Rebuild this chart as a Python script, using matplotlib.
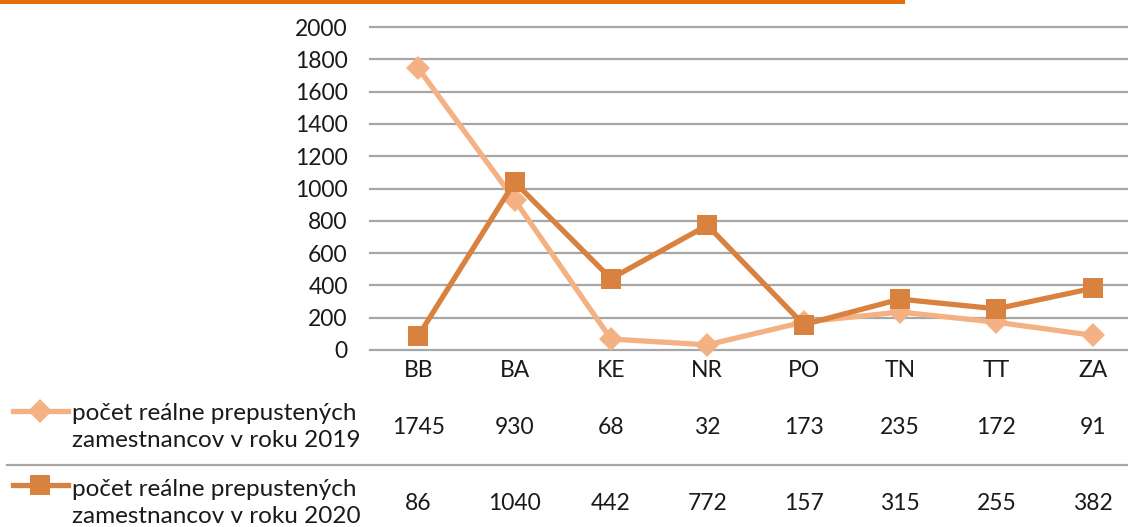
import matplotlib
matplotlib.use("Agg")
import matplotlib.pyplot as plt
from matplotlib.lines import Line2D
from matplotlib.patches import Rectangle
import matplotlib.transforms as mtransforms

plt.rcParams['font.family'] = ['Lato', 'DejaVu Sans']

categories = ["BB", "BA", "KE", "NR", "PO", "TN", "TT", "ZA"]
values_2019 = [1745, 930, 68, 32, 173, 235, 172, 91]
values_2020 = [86, 1040, 442, 772, 157, 315, 255, 382]
series_labels = ["počet reálne prepustených\nzamestnancov v roku 2019",
                 "počet reálne prepustených\nzamestnancov v roku 2020"]
yticks = [0, 200, 400, 600, 800, 1000, 1200, 1400, 1600, 1800, 2000]

c19 = "#F4B183"
c20 = "#D9813E"
grid_c = "#A6A6A6"
txt_c = "#1A1A1A"
fs = 16.5
fs_leg = 17.5

W, H = 1128, 527
fig = plt.figure(figsize=(W / 100, H / 100), dpi=100)

left, right, top, bottom = 370, 1141, 27, 350
ax = fig.add_axes([left / W, (H - bottom) / H, (right - left) / W, (bottom - top) / H])
ax.set_xlim(-0.5, len(categories) - 0.5)
ax.set_ylim(0, 2000)
for s in ax.spines.values():
    s.set_visible(False)
for t in yticks:
    ax.axhline(t, color=grid_c, lw=1.6, zorder=1, clip_on=False)
ax.set_yticks(yticks)
ax.set_yticklabels([str(t) for t in yticks], fontsize=fs, color=txt_c)
ax.tick_params(axis='y', length=0, pad=16)
x = list(range(len(categories)))
ax.set_xticks(x)
ax.set_xticklabels(categories, fontsize=fs, color=txt_c)
ax.tick_params(axis='x', length=0, pad=7)

ax.plot(x, values_2019, color=c19, lw=3.8, marker='D', markersize=12,
        markeredgewidth=0, zorder=3, clip_on=False)
ax.plot(x, values_2020, color=c20, lw=3.8, marker='s', markersize=14.5,
        markeredgewidth=0, zorder=4, clip_on=False)

# data table
trans = mtransforms.blended_transform_factory(ax.transData, fig.transFigure)
row_y = [427, 503]
for vals, ry in zip([values_2019, values_2020], row_y):
    for xi, v in zip(x, vals):
        ax.text(xi, 1 - ry / H, str(v), transform=trans, ha='center', va='center',
                fontsize=fs, color=txt_c, clip_on=False)

# legend keys and labels
keys = [(c19, 'D', 12, 411), (c20, 's', 14.5, 485)]
for (col, mk, ms, ky), lab, ry in zip(keys, series_labels, row_y):
    fig.add_artist(Line2D([13 / W, 68 / W], [1 - ky / H] * 2, color=col, lw=3.8,
                          transform=fig.transFigure))
    fig.add_artist(Line2D([40 / W], [1 - ky / H], color=col, marker=mk,
                          markersize=ms, markeredgewidth=0, transform=fig.transFigure))
    fig.text(72 / W, 1 - ry / H, lab, ha='left', va='center', fontsize=fs_leg,
             color=txt_c, linespacing=1.3)

# table separator
fig.add_artist(Line2D([7 / W, 1], [1 - 465 / H] * 2, color=grid_c, lw=1.6,
                      transform=fig.transFigure))

# orange bar at top
fig.add_artist(Rectangle((0, 1 - 4 / H), 905 / W, 4 / H, color="#E46C0A",
                         transform=fig.transFigure, lw=0))

fig.savefig("out.png", dpi=100)
